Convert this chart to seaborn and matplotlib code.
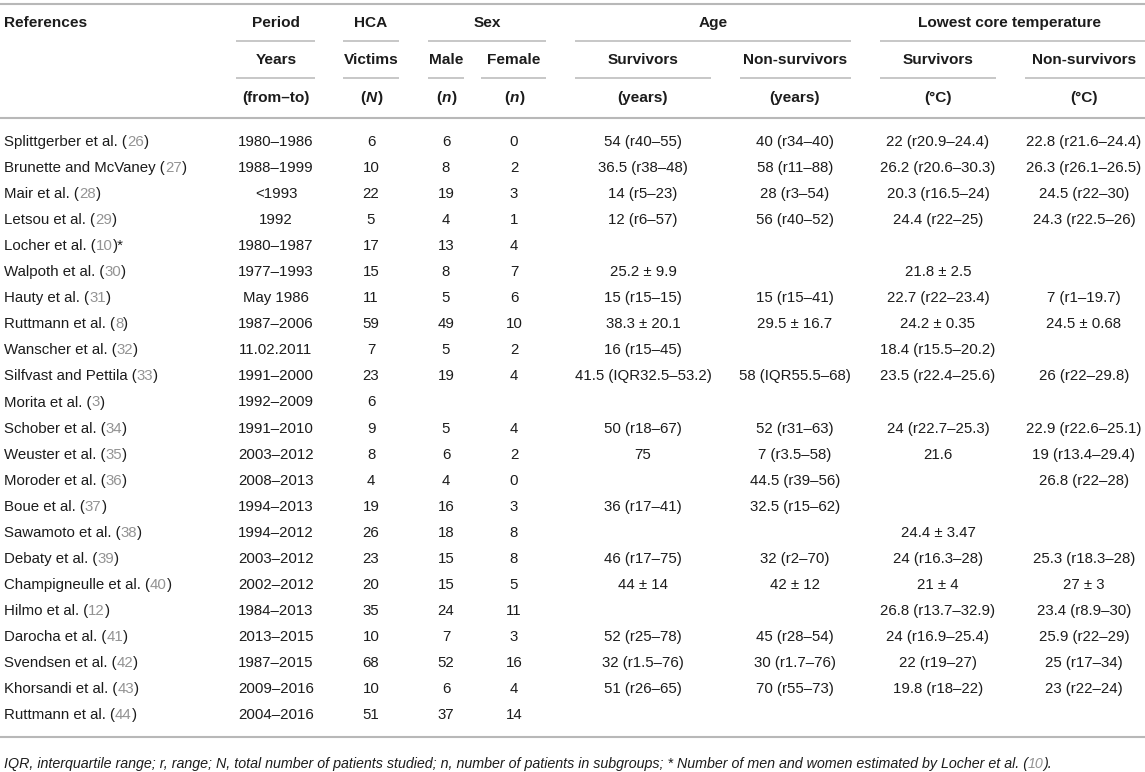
import matplotlib
matplotlib.use("Agg")
import matplotlib.pyplot as plt
import seaborn as sns

sns.set_theme(style="white")
plt.rcParams['font.family'] = ['Liberation Sans', 'DejaVu Sans']

# ---------------- data ----------------
ref_names = ["Splittgerber et al.", "Brunette and McVaney", "Mair et al.", "Letsou et al.",
             "Locher et al.", "Walpoth et al.", "Hauty et al.", "Ruttmann et al.",
             "Wanscher et al.", "Silfvast and Pettila", "Morita et al.", "Schober et al.",
             "Weuster et al.", "Moroder et al.", "Boue et al.", "Sawamoto et al.",
             "Debaty et al.", "Champigneulle et al.", "Hilmo et al.", "Darocha et al.",
             "Svendsen et al.", "Khorsandi et al.", "Ruttmann et al."]
ref_nums = ["26", "27", "28", "29", "10", "30", "31", "8", "32", "33", "3", "34", "35",
            "36", "37", "38", "39", "40", "12", "41", "42", "43", "44"]
ref_marks = ["", "", "", "", "*", "", "", "", "", "", "", "", "", "", "", "", "", "",
             "", "", "", "", ""]
periods = ["1980–1986", "1988–1999", "<1993", "1992", "1980–1987", "1977–1993", "May 1986",
           "1987–2006", "11.02.2011", "1991–2000", "1992–2009", "1991–2010", "2003–2012",
           "2008–2013", "1994–2013", "1994–2012", "2003–2012", "2002–2012", "1984–2013",
           "2013–2015", "1987–2015", "2009–2016", "2004–2016"]
hca_victims = ["6", "10", "22", "5", "17", "15", "11", "59", "7", "23", "6", "9", "8", "4",
               "19", "26", "23", "20", "35", "10", "68", "10", "51"]
male = ["6", "8", "19", "4", "13", "8", "5", "49", "5", "19", "", "5", "6", "4", "16",
        "18", "15", "15", "24", "7", "52", "6", "37"]
female = ["0", "2", "3", "1", "4", "7", "6", "10", "2", "4", "", "4", "2", "0", "3", "8",
          "8", "5", "11", "3", "16", "4", "14"]
age_survivors = ["54 (r40–55)", "36.5 (r38–48)", "14 (r5–23)", "12 (r6–57)", "",
                 "25.2 ± 9.9", "15 (r15–15)", "38.3 ± 20.1", "16 (r15–45)",
                 "41.5 (IQR32.5–53.2)", "", "50 (r18–67)", "75", "", "36 (r17–41)", "",
                 "46 (r17–75)", "44 ± 14", "", "52 (r25–78)", "32 (r1.5–76)",
                 "51 (r26–65)", ""]
age_nonsurvivors = ["40 (r34–40)", "58 (r11–88)", "28 (r3–54)", "56 (r40–52)", "", "",
                    "15 (r15–41)", "29.5 ± 16.7", "", "58 (IQR55.5–68)", "", "52 (r31–63)",
                    "7 (r3.5–58)", "44.5 (r39–56)", "32.5 (r15–62)", "", "32 (r2–70)",
                    "42 ± 12", "", "45 (r28–54)", "30 (r1.7–76)", "70 (r55–73)", ""]
temp_survivors = ["22 (r20.9–24.4)", "26.2 (r20.6–30.3)", "20.3 (r16.5–24)", "24.4 (r22–25)",
                  "", "21.8 ± 2.5", "22.7 (r22–23.4)", "24.2 ± 0.35", "18.4 (r15.5–20.2)",
                  "23.5 (r22.4–25.6)", "", "24 (r22.7–25.3)", "21.6", "", "", "24.4 ± 3.47",
                  "24 (r16.3–28)", "21 ± 4", "26.8 (r13.7–32.9)", "24 (r16.9–25.4)",
                  "22 (r19–27)", "19.8 (r18–22)", ""]
temp_nonsurvivors = ["22.8 (r21.6–24.4)", "26.3 (r26.1–26.5)", "24.5 (r22–30)",
                     "24.3 (r22.5–26)", "", "", "7 (r1–19.7)", "24.5 ± 0.68", "",
                     "26 (r22–29.8)", "", "22.9 (r22.6–25.1)", "19 (r13.4–29.4)",
                     "26.8 (r22–28)", "", "", "25.3 (r18.3–28)", "27 ± 3",
                     "23.4 (r8.9–30)", "25.9 (r22–29)", "25 (r17–34)", "23 (r22–24)", ""]

footnote_text = ("IQR, interquartile range; r, range; N, total number of patients studied; "
                 "n, number of patients in subgroups; * Number of men and women estimated by Locher et al. (")
footnote_ref = "10"

# ---------------- layout ----------------
W, H = 1145, 772
fig = plt.figure(figsize=(W / 100, H / 100), dpi=100)
ax = fig.add_axes([0, 0, 1, 1])
ax.set_xlim(0, W)
ax.set_ylim(H, 0)
ax.axis('off')
renderer = fig.canvas.get_renderer()

TXT = '#1c1c1c'
GREY = '#939393'
LINE = '#b8b8b8'
FS = 10.8
FSH = 11.1

def runs(x, y, parts, ha='left', **common):
    texts, widths = [], []
    for s, kw in parts:
        props = dict(common)
        props.update(kw)
        t = ax.text(0, y, s, va='center', ha='left', **props)
        widths.append(t.get_window_extent(renderer).width)
        texts.append(t)
    total = sum(widths)
    start = x if ha == 'left' else (x - total / 2 if ha == 'center' else x - total)
    for t, w in zip(texts, widths):
        t.set_x(start)
        start += w

def hline(y, x0, x1, lw=1.1):
    ax.plot([x0, x1], [y, y], color=LINE, lw=lw, solid_capstyle='butt')

# horizontal rules
hline(4, 0, W, 1.5)
hline(118, 0, W, 1.5)
hline(737, 0, W, 1.5)
for (a, b) in [(236, 315), (343, 399), (428, 546), (575, 851), (880, 1145)]:
    hline(40.5, a, b)
for (a, b) in [(236, 315), (343, 399), (428, 464), (481, 546), (575, 711), (740, 851),
               (880, 996), (1025, 1145)]:
    hline(77.5, a, b)

# column centres
cx = {'period': 276, 'hca': 371, 'male': 446, 'female': 514,
      'as': 643, 'an': 795, 'ts': 938, 'tn': 1084}

hb = dict(fontsize=FSH, fontweight='bold', color=TXT)
# header row 1
ax.text(4, 23, "References", ha='left', va='center', **hb)
ax.text(cx['period'], 23, "Period", ha='center', va='center', **hb)
ax.text(cx['hca'], 23, "HCA", ha='center', va='center', **hb)
ax.text(487, 23, "Sex", ha='center', va='center', **hb)
ax.text(713, 23, "Age", ha='center', va='center', **hb)
ax.text(1010, 23, "Lowest core temperature", ha='center', va='center', **hb)
# header row 2
for key, s in [('period', "Years"), ('hca', "Victims"), ('male', "Male"), ('female', "Female"),
               ('as', "Survivors"), ('an', "Non-survivors"), ('ts', "Survivors"),
               ('tn', "Non-survivors")]:
    ax.text(cx[key], 60, s, ha='center', va='center', **hb)
# header row 3
ax.text(cx['period'], 98, "(from–to)", ha='center', va='center', **hb)
runs(cx['hca'], 98, [("(", {}), ("N", {'fontstyle': 'italic'}), (")", {})], ha='center', **hb)
runs(cx['male'], 98, [("(", {}), ("n", {'fontstyle': 'italic'}), (")", {})], ha='center', **hb)
runs(cx['female'], 98, [("(", {}), ("n", {'fontstyle': 'italic'}), (")", {})], ha='center', **hb)
for key, s in [('as', "(years)"), ('an', "(years)"), ('ts', "(°C)"), ('tn', "(°C)")]:
    ax.text(cx[key], 98, s, ha='center', va='center', **hb)

# body
nb = dict(fontsize=FS, color=TXT)
y0, dy = 142, 26.05
for i in range(len(ref_names)):
    y = y0 + i * dy
    runs(4, y, [(ref_names[i] + " (", {}), (ref_nums[i], {'color': GREY}),
                (")" + ref_marks[i], {})], ha='left', **nb)
    for key, col in [('period', periods), ('hca', hca_victims), ('male', male),
                     ('female', female), ('as', age_survivors), ('an', age_nonsurvivors),
                     ('ts', temp_survivors), ('tn', temp_nonsurvivors)]:
        if col[i]:
            ax.text(cx[key], y, col[i], ha='center', va='center', **nb)

# footnote
runs(4, 764, [(footnote_text, {}), (footnote_ref, {'color': GREY}), (").", {})],
     ha='left', fontsize=10.25, fontstyle='italic', color=TXT)

fig.savefig("out.png", dpi=100)
